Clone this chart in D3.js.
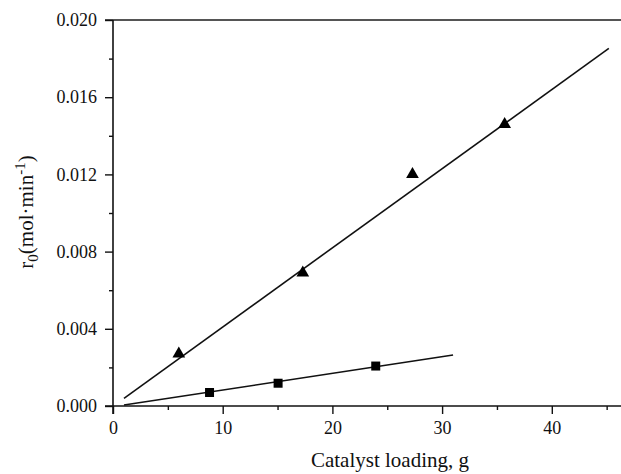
<!DOCTYPE html>
<html>
<head>
<meta charset="utf-8">
<script src="https://cdn.jsdelivr.net/npm/d3@7"></script>
<style>
  html, body { margin: 0; padding: 0; background: #fff; }
  svg { display: block; }
</style>
</head>
<body>
<svg id="chart" width="621" height="474"></svg>
<script>
// Initial rate vs catalyst loading, two catalysts
const triLoading = [6.0, 17.3, 27.3, 35.7];
const triRate    = [0.0027, 0.0069, 0.0120, 0.0146];
const sqLoading  = [8.8, 15.05, 23.95];
const sqRate     = [0.00070, 0.00118, 0.00207];

// Linear fit lines (start and end points)
const triFitX = [1.0, 45.2];
const triFitY = [0.0004, 0.01853];
const sqFitX  = [1.0, 31.0];
const sqFitY  = [0.00005, 0.00264];

const xTicks = [0, 10, 20, 30, 40];
const xMinor = [5, 15, 25, 35, 45];
const yTicks = [0.000, 0.004, 0.008, 0.012, 0.016, 0.020];
const yMinor = [0.002, 0.006, 0.010, 0.014, 0.018];

const serif = "'Liberation Serif'";
const svg = d3.select("#chart");
const mLeft = 113, mTop = 20, mBottom = 406;

const x = d3.scaleLinear().domain([0, 50]).range([mLeft, mLeft + 548.5]);
const y = d3.scaleLinear().domain([0, 0.020]).range([mBottom, mTop]);

// top frame line
svg.append("line")
  .attr("x1", mLeft - 8).attr("x2", 621)
  .attr("y1", y(0.020)).attr("y2", y(0.020))
  .attr("stroke", "#555").attr("stroke-width", 2);

// x axis
svg.append("g").attr("transform", `translate(0,${mBottom})`)
  .call(d3.axisBottom(x).tickValues(xTicks).tickFormat(d3.format("d"))
        .tickSize(8).tickPadding(7));
svg.append("g").attr("transform", `translate(0,${mBottom})`)
  .call(d3.axisBottom(x).tickValues(xMinor).tickFormat("").tickSize(4))
  .call(g => g.select(".domain").remove());

// y axis
svg.append("g").attr("transform", `translate(${mLeft},0)`)
  .call(d3.axisLeft(y).tickValues(yTicks).tickFormat(d3.format(".3f"))
        .tickSize(8).tickPadding(8));
svg.append("g").attr("transform", `translate(${mLeft},0)`)
  .call(d3.axisLeft(y).tickValues(yMinor).tickFormat("").tickSize(4))
  .call(g => g.select(".domain").remove());

// x axis line runs from the y tick at 0 to the right edge
svg.selectAll(".domain").remove();
svg.append("line")
  .attr("x1", mLeft - 8).attr("x2", 621)
  .attr("y1", mBottom).attr("y2", mBottom)
  .attr("stroke", "#111").attr("stroke-width", 1.6);
svg.append("line")
  .attr("x1", mLeft).attr("x2", mLeft)
  .attr("y1", mTop).attr("y2", mBottom + 8)
  .attr("stroke", "#111").attr("stroke-width", 1.6);

svg.selectAll(".tick line").attr("stroke", "#111").attr("stroke-width", 1.4);
svg.selectAll(".tick text")
  .style("font-family", serif).style("font-size", "18px").attr("fill", "#111");

// axis titles
svg.append("text")
  .attr("x", 390).attr("y", 467)
  .attr("text-anchor", "middle")
  .style("font-family", serif).style("font-size", "21px").attr("fill", "#111")
  .text("Catalyst loading, g");

const yt = svg.append("text")
  .attr("transform", "translate(33,212) rotate(-90)")
  .attr("text-anchor", "middle")
  .style("font-family", serif).style("font-size", "21px").attr("fill", "#111");
yt.append("tspan").text("r");
yt.append("tspan").attr("dy", 5).style("font-size", "15px").text("0");
yt.append("tspan").attr("dy", -5).text("(mol·min");
yt.append("tspan").attr("dy", -8).style("font-size", "15px").text("-1");
yt.append("tspan").attr("dy", 8).text(")");

// fit lines
const line = d3.line().x(d => x(d[0])).y(d => y(d[1]));
svg.append("path").datum(d3.zip(triFitX, triFitY))
  .attr("d", line).attr("fill", "none").attr("stroke", "#111").attr("stroke-width", 1.6);
svg.append("path").datum(d3.zip(sqFitX, sqFitY))
  .attr("d", line).attr("fill", "none").attr("stroke", "#111").attr("stroke-width", 1.6);

// markers
const tri = d3.symbol().type(d3.symbolTriangle).size(70);
svg.selectAll(".tri").data(d3.zip(triLoading, triRate)).join("path")
  .attr("class", "tri")
  .attr("transform", d => `translate(${x(d[0])},${y(d[1])})`)
  .attr("d", tri).attr("fill", "#000");

const sq = d3.symbol().type(d3.symbolSquare).size(81);
svg.selectAll(".sq").data(d3.zip(sqLoading, sqRate)).join("path")
  .attr("class", "sq")
  .attr("transform", d => `translate(${x(d[0])},${y(d[1])})`)
  .attr("d", sq).attr("fill", "#000");
</script>
</body>
</html>
